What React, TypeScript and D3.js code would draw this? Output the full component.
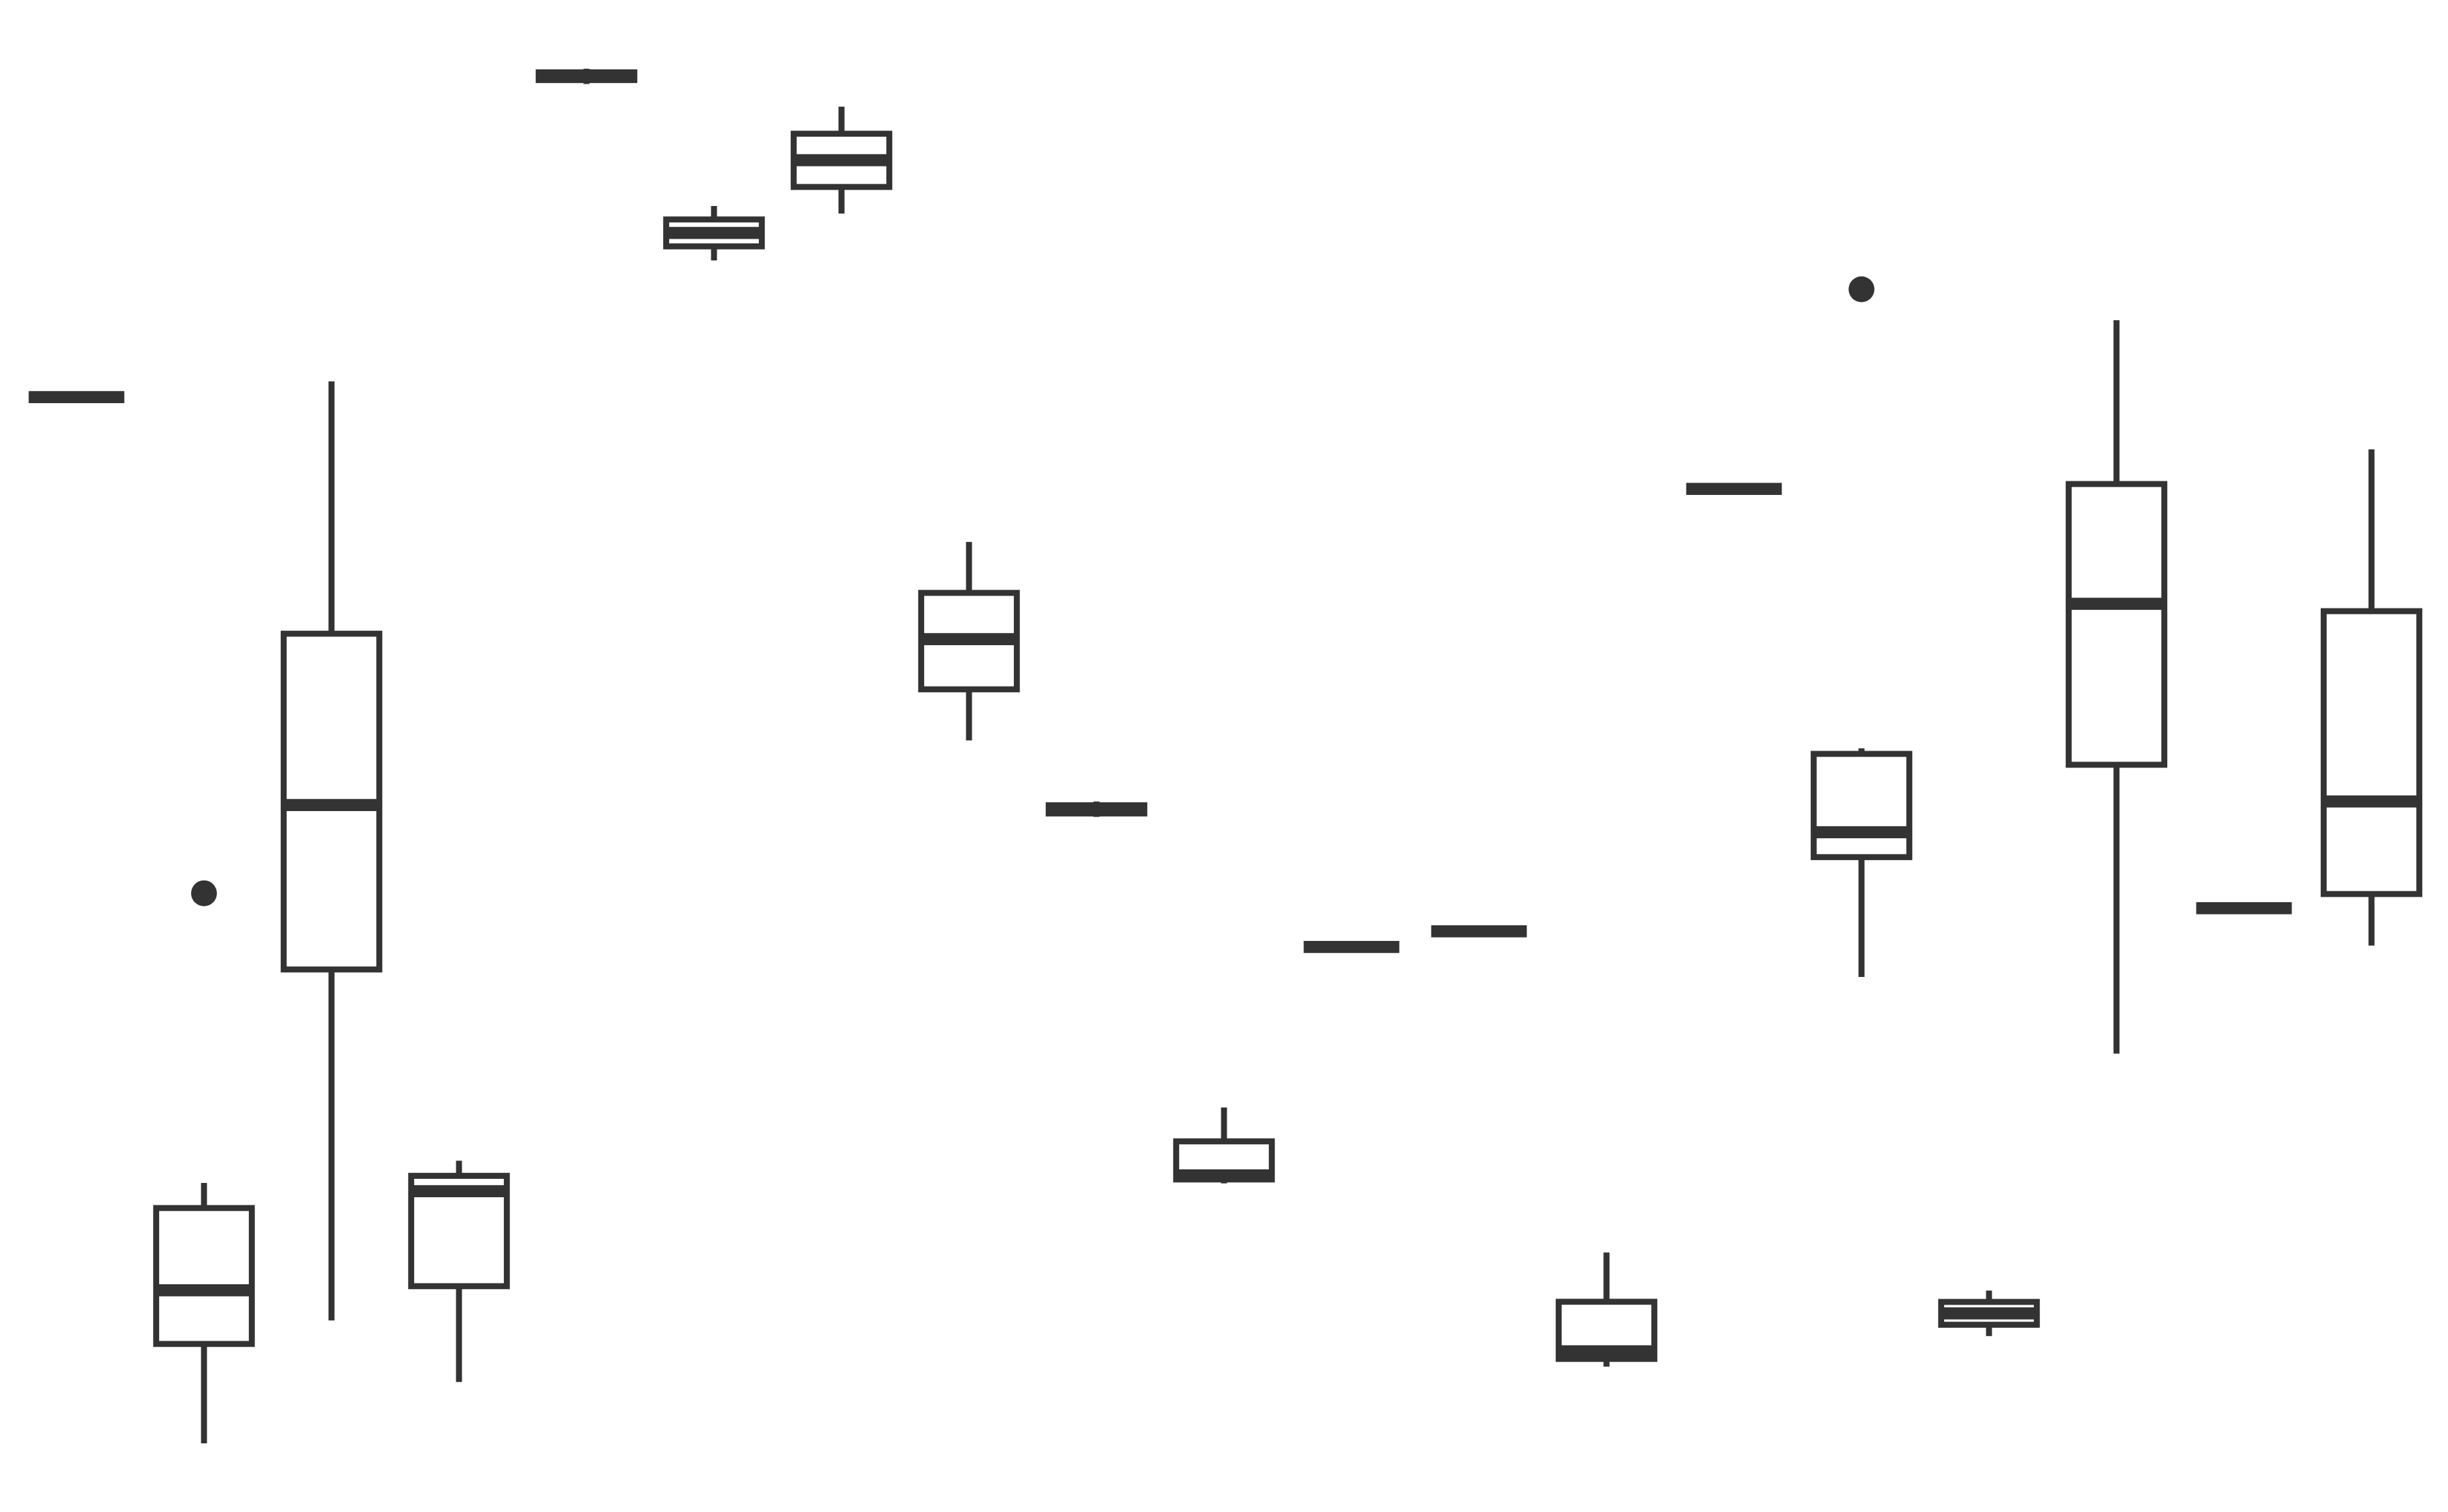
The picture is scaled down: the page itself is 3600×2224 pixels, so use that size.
import { useEffect, useRef } from 'react'
import * as d3 from 'd3'

// one box per group (arbitrary units)
const groups = ['A', 'B', 'C', 'D', 'E', 'F', 'G', 'H', 'I', 'J', 'K', 'L', 'M', 'N', 'O', 'P', 'Q', 'R', 'S']

const whiskerHigh = [73.74, 21.76, 74.78, 23.23, 95.46, 86.38, 92.95, 64.16, 46.99, 26.75, 37.37, 38.4, 17.16, 67.67, 50.51, 14.64, 78.82, 39.93, 70.28]
const q3 = [73.74, 20.1, 58.09, 22.23, 95.22, 85.49, 91.16, 60.79, 46.74, 24.51, 37.37, 38.4, 13.9, 67.67, 50.14, 13.89, 67.99, 39.93, 59.58]
const medians = [73.74, 14.66, 46.76, 21.21, 94.96, 84.6, 89.41, 57.73, 46.47, 22.26, 37.37, 38.4, 10.63, 67.67, 44.96, 13.13, 60.07, 39.93, 46.99]
const q1 = [73.74, 11.11, 35.88, 14.93, 94.71, 83.71, 87.64, 54.41, 46.2, 21.99, 37.37, 38.4, 10.12, 67.67, 43.31, 12.38, 49.42, 39.93, 40.87]
const whiskerLow = [73.74, 4.54, 12.66, 8.59, 94.45, 82.78, 85.88, 51.03, 45.97, 21.73, 37.37, 38.4, 9.61, 67.67, 35.39, 11.63, 30.31, 39.93, 37.46]
const outliers: [string, number][] = [['B', 40.92], ['O', 80.87]]

const W = 3600
const H = 2224

export default function App() {
  const svgRef = useRef<SVGSVGElement>(null)

  useEffect(() => {
    if (!svgRef.current) return
    const svg = d3.select(svgRef.current)
    svg.selectAll('*').remove()

    const color = '#333333'
    const lw = 8.8
    const medLw = 17.7

    const x = d3.scaleBand<string>()
      .domain(groups)
      .range([18.75, W - 18.75])
      .paddingInner(0)
      .paddingOuter(0)

    // matplotlib-like 5% margins around the data
    const allVals = [...whiskerLow, ...whiskerHigh, ...outliers.map(d => d[1])]
    const lo = d3.min(allVals) as number
    const hi = d3.max(allVals) as number
    const pad = (hi - lo) * 0.05
    const y = d3.scaleLinear()
      .domain([lo - pad, hi + pad])
      .range([H, 0])

    const boxW = x.bandwidth() * 0.75
    const rows = groups.map((g, i) => ({
      g,
      cx: (x(g) as number) + x.bandwidth() / 2,
      wl: whiskerLow[i], q1: q1[i], med: medians[i], q3: q3[i], wh: whiskerHigh[i]
    }))

    const g = svg.append('g')

    // whiskers
    g.selectAll('.wh-top')
      .data(rows.filter(d => d.wh > d.q3))
      .enter().append('line')
      .attr('x1', d => d.cx).attr('x2', d => d.cx)
      .attr('y1', d => y(d.q3)).attr('y2', d => y(d.wh))
      .attr('stroke', color).attr('stroke-width', lw)

    g.selectAll('.wh-bot')
      .data(rows.filter(d => d.wl < d.q1))
      .enter().append('line')
      .attr('x1', d => d.cx).attr('x2', d => d.cx)
      .attr('y1', d => y(d.q1)).attr('y2', d => y(d.wl))
      .attr('stroke', color).attr('stroke-width', lw)

    // boxes (zero-height boxes are not drawn, only the median shows)
    g.selectAll('.box')
      .data(rows.filter(d => d.q3 > d.q1))
      .enter().append('rect')
      .attr('x', d => d.cx - boxW / 2)
      .attr('y', d => y(d.q3))
      .attr('width', boxW)
      .attr('height', d => y(d.q1) - y(d.q3))
      .attr('fill', '#ffffff')
      .attr('stroke', color)
      .attr('stroke-width', lw)

    // medians
    g.selectAll('.median')
      .data(rows)
      .enter().append('line')
      .attr('x1', d => d.cx - boxW / 2)
      .attr('x2', d => d.cx + boxW / 2)
      .attr('y1', d => y(d.med)).attr('y2', d => y(d.med))
      .attr('stroke', color).attr('stroke-width', medLw)

    // outliers
    g.selectAll('.outlier')
      .data(outliers)
      .enter().append('circle')
      .attr('cx', d => (x(d[0]) as number) + x.bandwidth() / 2)
      .attr('cy', d => y(d[1]))
      .attr('r', 19)
      .attr('fill', color)
  }, [])

  return (
    <svg
      ref={svgRef}
      width={W}
      height={H}
      style={{ position: 'absolute', top: 0, left: 0, background: '#ffffff', display: 'block' }}
    />
  )
}
